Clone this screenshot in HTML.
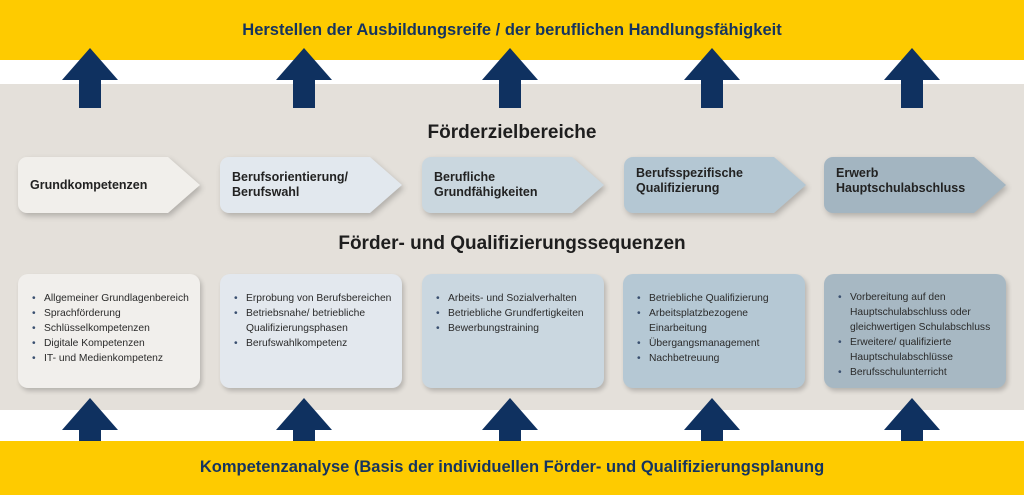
<!DOCTYPE html>
<html><head><meta charset="utf-8"><style>
body{margin:0;width:1024px;height:495px;position:relative;overflow:hidden;font-family:"Liberation Sans",sans-serif;background:#fff}
.a{position:absolute}
.band{position:absolute;left:0;width:1024px;background:#fecb00;color:#15345f;font-weight:bold;font-size:16.5px;text-align:center}
.chev{position:absolute;top:157px;height:56px;width:182px;filter:drop-shadow(2px 3px 3px rgba(0,0,0,.22))}
.chev div{position:absolute;inset:0;clip-path:polygon(0 0,150px 0,182px 28px,150px 56px,0 56px);border-radius:9px 0 0 9px}
.chev span{position:absolute;left:12px;top:0;height:56px;display:flex;align-items:center;font-weight:bold;font-size:12.5px;color:#222;line-height:15px}
.box{position:absolute;top:274px;height:114px;width:182px;border-radius:10px;box-shadow:2px 3px 5px rgba(0,0,0,.2);font-size:10.3px;color:#2a2a2a;line-height:15px}
.box ul{margin:17px 0 0 0;padding-left:26px;list-style:none}
.box li{position:relative}
.box li:before{content:"•";position:absolute;left:-12px;color:#3a5070}
.h{position:absolute;left:0;width:1024px;text-align:center;font-weight:bold;font-size:19px;color:#1e1e1e}
</style></head><body>
<div class="band" style="top:0;height:60px;line-height:60px">Herstellen der Ausbildungsreife / der beruflichen Handlungsfähigkeit</div>
<div class="a" style="top:84px;left:0;width:1024px;height:326px;background:#e4e0da"></div>
<svg class="a" style="left:0;top:0" width="1024" height="495">
<g fill="#0f3160">
<path id="up" d="M-28 80 L0 48 L28 80 L11 80 L11 108 L-11 108 L-11 80Z" transform="translate(90,0)"/>
<use href="#up" x="214"/><use href="#up" x="420"/><use href="#up" x="622"/><use href="#up" x="822"/>
<g transform="translate(0,350)"><use href="#up"/><use href="#up" x="214"/><use href="#up" x="420"/><use href="#up" x="622"/><use href="#up" x="822"/></g>
</g></svg>
<div class="band" style="top:441px;height:54px;line-height:52px">Kompetenzanalyse (Basis der individuellen Förder- und Qualifizierungsplanung</div>
<div class="h" style="top:122px">Förderzielbereiche</div>
<div class="h" style="top:233px">Förder- und Qualifizierungssequenzen</div>
<div class="chev" style="left:18px"><div style="background:#f1efeb"></div><span>Grundkompetenzen</span></div>
<div class="chev" style="left:220px"><div style="background:#e2e8ee"></div><span>Berufsorientierung/<br>Berufswahl</span></div>
<div class="chev" style="left:422px"><div style="background:#cad7df"></div><span>Berufliche<br>Grundfähigkeiten</span></div>
<div class="chev" style="left:624px"><div style="background:#b4c7d3"></div><span style="margin-top:-4px">Berufsspezifische<br>Qualifizierung</span></div>
<div class="chev" style="left:824px"><div style="background:#a3b5c1"></div><span style="margin-top:-4px">Erwerb<br>Hauptschulabschluss</span></div>
<div class="box" style="left:18px;background:#f1efec"><ul><li>Allgemeiner Grundlagenbereich</li><li>Sprachförderung</li><li>Schlüsselkompetenzen</li><li>Digitale Kompetenzen</li><li>IT- und Medienkompetenz</li></ul></div>
<div class="box" style="left:220px;background:#e3e8ee"><ul><li>Erprobung von Berufsbereichen</li><li>Betriebsnahe/ betriebliche Qualifizierungsphasen</li><li>Berufswahlkompetenz</li></ul></div>
<div class="box" style="left:422px;background:#cad7e0"><ul><li>Arbeits- und Sozialverhalten</li><li>Betriebliche Grundfertigkeiten</li><li>Bewerbungstraining</li></ul></div>
<div class="box" style="left:623px;background:#b5c8d4"><ul><li>Betriebliche Qualifizierung</li><li>Arbeitsplatzbezogene Einarbeitung</li><li>Übergangsmanagement</li><li>Nachbetreuung</li></ul></div>
<div class="box" style="left:824px;background:#a7b8c3"><ul style="margin-top:16px"><li>Vorbereitung auf den Hauptschulabschluss oder gleichwertigen Schulabschluss</li><li>Erweitere/ qualifizierte Hauptschulabschlüsse</li><li>Berufsschulunterricht</li></ul></div>
</body></html>
